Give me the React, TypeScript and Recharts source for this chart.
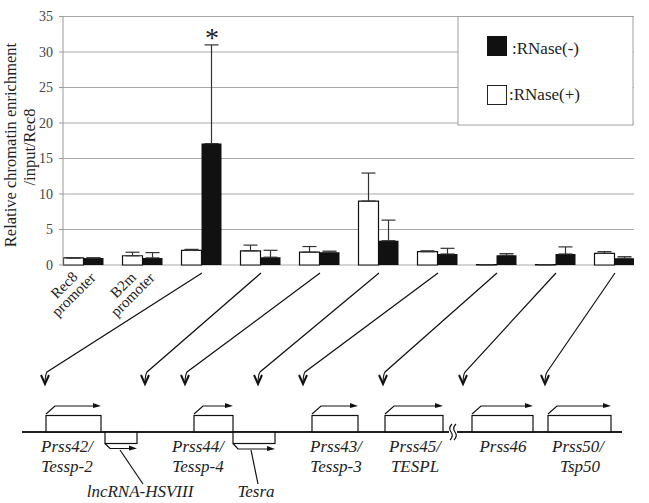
import React from 'react';
import { BarChart, Bar, XAxis, YAxis, CartesianGrid, ErrorBar, Customized } from 'recharts';

const categories = [
  'Rec8 promoter',
  'B2m promoter',
  'Prss42/Tessp-2',
  'lncRNA-HSVIII',
  'Prss44/Tessp-4',
  'Tesra',
  'Prss43/Tessp-3',
  'Prss45/TESPL',
  'Prss46',
  'Prss50/Tsp50',
];
const rnasePlus = [1.0, 1.3, 2.05, 2.0, 1.8, 9.0, 1.88, 0.05, 0.05, 1.65];
const rnasePlusErr = [0, 0.5, 0.15, 0.8, 0.8, 3.95, 0.12, 0, 0, 0.23];
const rnaseMinus = [1.0, 1.0, 17.1, 1.1, 1.8, 3.42, 1.55, 1.37, 1.55, 0.95];
const rnaseMinusErr = [0, 0.75, 13.9, 0.97, 0.15, 2.9, 0.8, 0.23, 1.0, 0.22];
const yTicks = [0, 5, 10, 15, 20, 25, 30, 35];
const xLabelLines = [['Rec8', 'promoter'], ['B2m', 'promoter']];
const legendLabels = [':RNase(-)', ':RNase(+)'];
const yTitle = ['Relative chromatin enrichment', '/input/Rec8'];

const data = categories.map((c, i) => ({
  x: i,
  name: c,
  plus: rnasePlus[i],
  plusErr: [0, rnasePlusErr[i]],
  minus: rnaseMinus[i],
  minusErr: [0, rnaseMinusErr[i]],
}));

const W = 649;
const H = 503;
const PL = 63;
const PR = 634;
const PT = 16.5;
const PB = 265;
const XMIN = -0.356;
const XMAX = 9.322;
const xPix = (v: number) => PL + ((v - XMIN) / (XMAX - XMIN)) * (PR - PL);

const SERIF = '"Liberation Serif", "Times New Roman", serif';

// diagram layout (annotation drawing, not data)
const arrowTips = [45, 145, 185, 258, 303, 383, 463, 545];
const topBoxes: [number, number][] = [[46, 101], [194, 233], [312, 358], [385, 443], [472, 533], [548, 611]];
const bottomBoxes: [number, number][] = [[105, 137], [233, 275]];
const geneLabels: { x: number; y: number; t: string }[] = [
  { x: 67, y: 452, t: 'Prss42/' },
  { x: 67, y: 472, t: 'Tessp-2' },
  { x: 140, y: 497, t: 'lncRNA-HSVIII' },
  { x: 198, y: 452, t: 'Prss44/' },
  { x: 198, y: 472, t: 'Tessp-4' },
  { x: 256, y: 497, t: 'Tesra' },
  { x: 336, y: 452, t: 'Prss43/' },
  { x: 336, y: 472, t: 'Tessp-3' },
  { x: 415, y: 452, t: 'Prss45/' },
  { x: 415, y: 472, t: 'TESPL' },
  { x: 503, y: 452, t: 'Prss46' },
  { x: 578, y: 452, t: 'Prss50/' },
  { x: 580, y: 472, t: 'Tsp50' },
];

const Overlay = () => {
  const els: React.ReactNode[] = [];
  // y title
  els.push(
    <text key="yt1" transform={`translate(16,145) rotate(-90)`} textAnchor="middle" fontFamily={SERIF} fontSize={16.5} fill="#222">
      {yTitle[0]}
    </text>,
    <text key="yt2" transform={`translate(35,147) rotate(-90)`} textAnchor="middle" fontFamily={SERIF} fontSize={16.5} fill="#222">
      {yTitle[1]}
    </text>
  );
  // rotated x labels for first two categories
  xLabelLines.forEach((lines, i) => {
    const cx = xPix(i) - 15;
    const cy = 290;
    els.push(
      <g key={`xl${i}`} transform={`translate(${cx},${cy}) rotate(-45)`}>
        <text x={0} y={-2} textAnchor="middle" fontFamily={SERIF} fontSize={15} fill="#222">{lines[0]}</text>
        <text x={0} y={11.5} textAnchor="middle" fontFamily={SERIF} fontSize={15} fill="#222">{lines[1]}</text>
      </g>
    );
  });
  // asterisk
  els.push(
    <text key="ast" x={xPix(2) + 10} y={47} textAnchor="middle" fontFamily={SERIF} fontSize={28} fill="#222">*</text>
  );
  // legend
  els.push(
    <g key="legend">
      <rect x={458} y={PT} width={175} height={108.5} fill="#fff" stroke="#a0a0a0" strokeWidth={1} />
      <rect x={487} y={36} width={20} height={20} fill="#111" />
      <text x={512} y={54} fontFamily={SERIF} fontSize={17} fill="#222">{legendLabels[0]}</text>
      <rect x={487.5} y={85.5} width={19} height={19} fill="#fff" stroke="#222" strokeWidth={1} />
      <text x={509} y={100} fontFamily={SERIF} fontSize={17} fill="#222">{legendLabels[1]}</text>
    </g>
  );
  // diagonal pointer lines with arrowheads
  arrowTips.forEach((tx, k) => {
    const i = k + 2;
    const sx = xPix(i);
    const sy = 273;
    const ty = 384;
    els.push(
      <g key={`ar${k}`}>
        <path d={`M${sx},${sy} L${tx + 2},${ty - 12} Q${tx},${ty - 9} ${tx},${ty}`} fill="none" stroke="#111" strokeWidth={1.2} />
        <path d={`M${tx - 4},${ty - 9} L${tx},${ty} L${tx + 4},${ty - 9}`} fill="none" stroke="#111" strokeWidth={2} />
      </g>
    );
  });
  // baseline
  els.push(<line key="base" x1={22} y1={432} x2={622} y2={432} stroke="#111" strokeWidth={1.5} />);
  // top boxes with transcription arrows
  topBoxes.forEach(([x0, x1], k) => {
    els.push(
      <g key={`tb${k}`}>
        <rect x={x0} y={415.5} width={x1 - x0} height={16.5} fill="#fff" stroke="#111" strokeWidth={1.2} />
        <path d={`M${x0},${414} L${x0 + 9},${406} L${x1 - 6},${406}`} fill="none" stroke="#111" strokeWidth={1.2} />
        <path d={`M${x1 - 8},${403} L${x1},${406} L${x1 - 8},${408}Z`} fill="#111" />
      </g>
    );
  });
  bottomBoxes.forEach(([x0, x1], k) => {
    const ay = k === 0 ? 448.5 : 449;
    els.push(
      <g key={`bb${k}`}>
        <rect x={x0} y={432} width={x1 - x0} height={11.5} fill="#fff" stroke="#111" strokeWidth={1.2} />
        <path d={`M${x0},${443.5} L${x0 + 5},${ay} L${x1 - 6},${ay}`} fill="none" stroke="#111" strokeWidth={1.2} />
        <path d={`M${x1 - 8},${ay - 3} L${x1},${ay} L${x1 - 8},${ay + 2}Z`} fill="#111" />
      </g>
    );
  });
  // redraw baseline over box bottoms
  els.push(<line key="base2" x1={22} y1={432} x2={622} y2={432} stroke="#111" strokeWidth={1.5} />);
  // leader lines
  els.push(
    <line key="ld1" x1={120} y1={450} x2={143} y2={484} stroke="#111" strokeWidth={1.2} />,
    <line key="ld2" x1={251} y1={450} x2={258} y2={484} stroke="#111" strokeWidth={1.2} />
  );
  // break symbol
  els.push(
    <g key="brk">
      <rect x={449} y={425} width={8} height={14} fill="#fff" />
      <path d="M452,424 Q448,428 451,432 Q454,436 450,440" fill="none" stroke="#111" strokeWidth={1.2} />
      <path d="M456,424 Q452,428 455,432 Q458,436 454,440" fill="none" stroke="#111" strokeWidth={1.2} />
    </g>
  );
  geneLabels.forEach((g, k) => {
    els.push(
      <text key={`gl${k}`} x={g.x} y={g.y} textAnchor="middle" fontFamily={SERIF} fontStyle="italic" fontSize={17} fill="#222">
        {g.t}
      </text>
    );
  });
  return <g>{els}</g>;
};

export default function App() {
  return (
    <div style={{ position: 'absolute', left: 0, top: 0, width: W, height: H, background: '#fff' }}>
      <BarChart
        width={W}
        height={H}
        data={data}
        margin={{ top: PT, right: W - PR, bottom: H - PB, left: 0 }}
        barGap={0}
        barSize={20}
      >
        <CartesianGrid vertical={false} stroke="#a8a8a8" strokeWidth={1} />
        <XAxis
          type="number"
          dataKey="x"
          domain={[XMIN, XMAX]}
          ticks={[0, 1, 2, 3, 4, 5, 6, 7, 8, 9]}
          allowDataOverflow
          hide
        />
        <YAxis
          width={PL}
          domain={[0, 35]}
          ticks={yTicks}
          interval={0}
          axisLine={{ stroke: '#999' }}
          tickLine={{ stroke: '#999' }}
          tickSize={4}
          tickMargin={6}
          tick={{ fontFamily: SERIF, fontSize: 14, fill: '#444' }}
        />
        <Bar dataKey="plus" fill="#fff" stroke="#111" strokeWidth={1.2} isAnimationActive={false}>
          <ErrorBar dataKey="plusErr" width={7} stroke="#333" strokeWidth={1.2} direction="y" />
        </Bar>
        <Bar dataKey="minus" fill="#111" isAnimationActive={false}>
          <ErrorBar dataKey="minusErr" width={7} stroke="#333" strokeWidth={1.2} direction="y" />
        </Bar>
        <Customized component={Overlay} />
      </BarChart>
    </div>
  );
}
